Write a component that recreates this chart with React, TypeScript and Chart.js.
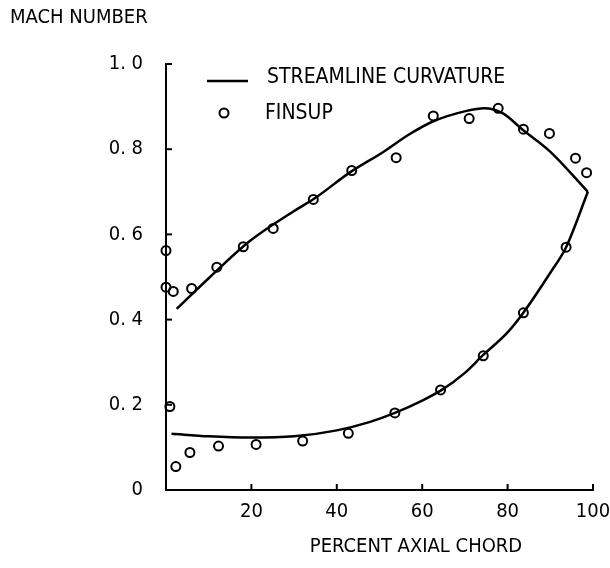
import React, { useEffect, useRef } from "react";
import { Chart, registerables } from "chart.js";

Chart.register(...registerables);

const FONT = "'DejaVu Sans Condensed', 'Liberation Sans Narrow', 'DejaVu Sans', sans-serif";

// Streamline curvature solution (upper branch and lower branch)
const upperLineX = [2.5, 10, 19.7, 30, 35.3, 43, 50.8, 57, 62.5, 70.4, 74.5, 78.9, 83.6, 89.9, 98.8];
const upperLineY = [0.425, 0.497, 0.585, 0.655, 0.688, 0.745, 0.793, 0.835, 0.865, 0.89, 0.896, 0.884, 0.845, 0.795, 0.70];
const lowerLineX = [1.3, 10, 19.7, 30, 40, 47.8, 53.6, 60, 64.6, 70, 74.3, 80, 83.6, 90, 93.7, 98.8];
const lowerLineY = [0.132, 0.126, 0.123, 0.126, 0.14, 0.16, 0.181, 0.21, 0.235, 0.275, 0.317, 0.37, 0.415, 0.51, 0.57, 0.70];

// FINSUP points
const finsupX = [0, 0, 1.7, 6, 11.9, 18.1, 25.1, 34.5, 43.5, 53.9, 62.6, 71, 77.8, 83.7, 89.8, 95.9, 98.5,
  0.9, 2.3, 5.6, 12.3, 21.1, 32, 42.7, 53.6, 64.3, 74.3, 83.7, 93.7];
const finsupY = [0.562, 0.476, 0.466, 0.473, 0.523, 0.571, 0.614, 0.682, 0.75, 0.78, 0.878, 0.872, 0.896, 0.847, 0.837, 0.779, 0.745,
  0.196, 0.055, 0.088, 0.103, 0.107, 0.115, 0.133, 0.181, 0.235, 0.315, 0.416, 0.57];

const yTickLabels = ["0", "0. 2", "0. 4", "0. 6", "0. 8", "1. 0"];
const xTickLabels = ["", "20", "40", "60", "80", "100"];

const seriesNames = ["STREAMLINE CURVATURE", "FINSUP"];
const yAxisTitle = "MACH NUMBER";
const xAxisTitle = "PERCENT AXIAL CHORD";

const toXY = (xs: number[], ys: number[]) => xs.map((x, i) => ({ x, y: ys[i] }));

const decorPlugin = {
  id: "decor",
  afterDraw(chart: any) {
    const { ctx, chartArea, scales } = chart;
    const xs = scales.x;
    const ys = scales.y;
    ctx.save();
    ctx.strokeStyle = "#000";
    ctx.fillStyle = "#000";
    ctx.lineWidth = 2;
    // inward tick marks
    ys.ticks.forEach((t: any) => {
      if (t.value === 0) return;
      const py = ys.getPixelForValue(t.value);
      ctx.beginPath();
      ctx.moveTo(chartArea.left, py);
      ctx.lineTo(chartArea.left + 6, py);
      ctx.stroke();
    });
    xs.ticks.forEach((t: any) => {
      if (t.value === 0) return;
      const px = xs.getPixelForValue(t.value);
      ctx.beginPath();
      ctx.moveTo(px, chartArea.bottom);
      ctx.lineTo(px, chartArea.bottom - 6);
      ctx.stroke();
    });

    // titles
    ctx.font = `20px ${FONT}`;
    ctx.textBaseline = "middle";
    ctx.textAlign = "left";
    ctx.fillText(yAxisTitle, 10, 18);
    ctx.textAlign = "center";
    ctx.fillText(xAxisTitle, 416, 547);

    // legend
    const lx = chartArea.left;
    const ly = chartArea.top;
    ctx.lineWidth = 2.5;
    ctx.beginPath();
    ctx.moveTo(lx + 41, ly + 17);
    ctx.lineTo(lx + 82, ly + 17);
    ctx.stroke();
    ctx.lineWidth = 2;
    ctx.beginPath();
    ctx.arc(lx + 58, ly + 49, 4.5, 0, Math.PI * 2);
    ctx.stroke();
    ctx.font = `21px ${FONT}`;
    ctx.textAlign = "left";
    ctx.fillText(seriesNames[0], lx + 101, ly + 14);
    ctx.fillText(seriesNames[1], lx + 99, ly + 50);
    ctx.restore();
  },
};

export default function App() {
  const canvasRef = useRef<HTMLCanvasElement | null>(null);

  useEffect(() => {
    if (!canvasRef.current) return;
    const lineStyle = {
      type: "line" as const,
      showLine: true,
      borderColor: "#000",
      borderWidth: 2.5,
      pointRadius: 0,
      cubicInterpolationMode: "monotone" as const,
      fill: false,
      clip: false as any,
    };
    const chart = new Chart(canvasRef.current, {
      type: "scatter",
      data: {
        datasets: [
          { ...lineStyle, label: seriesNames[0], data: toXY(upperLineX, upperLineY) },
          { ...lineStyle, label: seriesNames[0] + " (lower)", data: toXY(lowerLineX, lowerLineY) },
          {
            label: seriesNames[1],
            data: toXY(finsupX, finsupY),
            showLine: false,
            pointStyle: "circle",
            pointRadius: 4.5,
            pointBorderWidth: 2,
            pointBorderColor: "#000",
            pointBackgroundColor: "rgba(255,255,255,0)",
            clip: false as any,
          },
        ],
      },
      options: {
        animation: false,
        responsive: true,
        maintainAspectRatio: false,
        layout: { padding: { left: 108, right: 17, top: 64, bottom: 0 } },
        plugins: { legend: { display: false }, tooltip: { enabled: false }, title: { display: false } },
        scales: {
          x: {
            type: "linear",
            min: 0,
            max: 100,
            grid: { display: false, drawTicks: false },
            border: { display: true, color: "#000", width: 2 },
            ticks: {
              stepSize: 20,
              color: "#000",
              font: { family: FONT, size: 20 },
              padding: 10,
              maxRotation: 0,
              callback: (_v: any, i: number) => xTickLabels[i] ?? "",
            },
            afterFit: (s: any) => {
              s.height = 78;
              s.paddingLeft = 0;
              s.paddingRight = 0;
            },
          },
          y: {
            type: "linear",
            min: 0,
            max: 1,
            grid: { display: false, drawTicks: false },
            border: { display: true, color: "#000", width: 2 },
            ticks: {
              stepSize: 0.2,
              color: "#000",
              font: { family: FONT, size: 20 },
              padding: 23,
              callback: (_v: any, i: number) => yTickLabels[i] ?? "",
            },
            afterFit: (s: any) => {
              s.width = 58;
              s.paddingTop = 0;
              s.paddingBottom = 0;
            },
          },
        },
      },
      plugins: [decorPlugin],
    });
    return () => chart.destroy();
  }, []);

  return (
    <div style={{ position: "fixed", left: 0, top: 0, width: 610, height: 568, background: "#fff" }}>
      <canvas ref={canvasRef} />
    </div>
  );
}
